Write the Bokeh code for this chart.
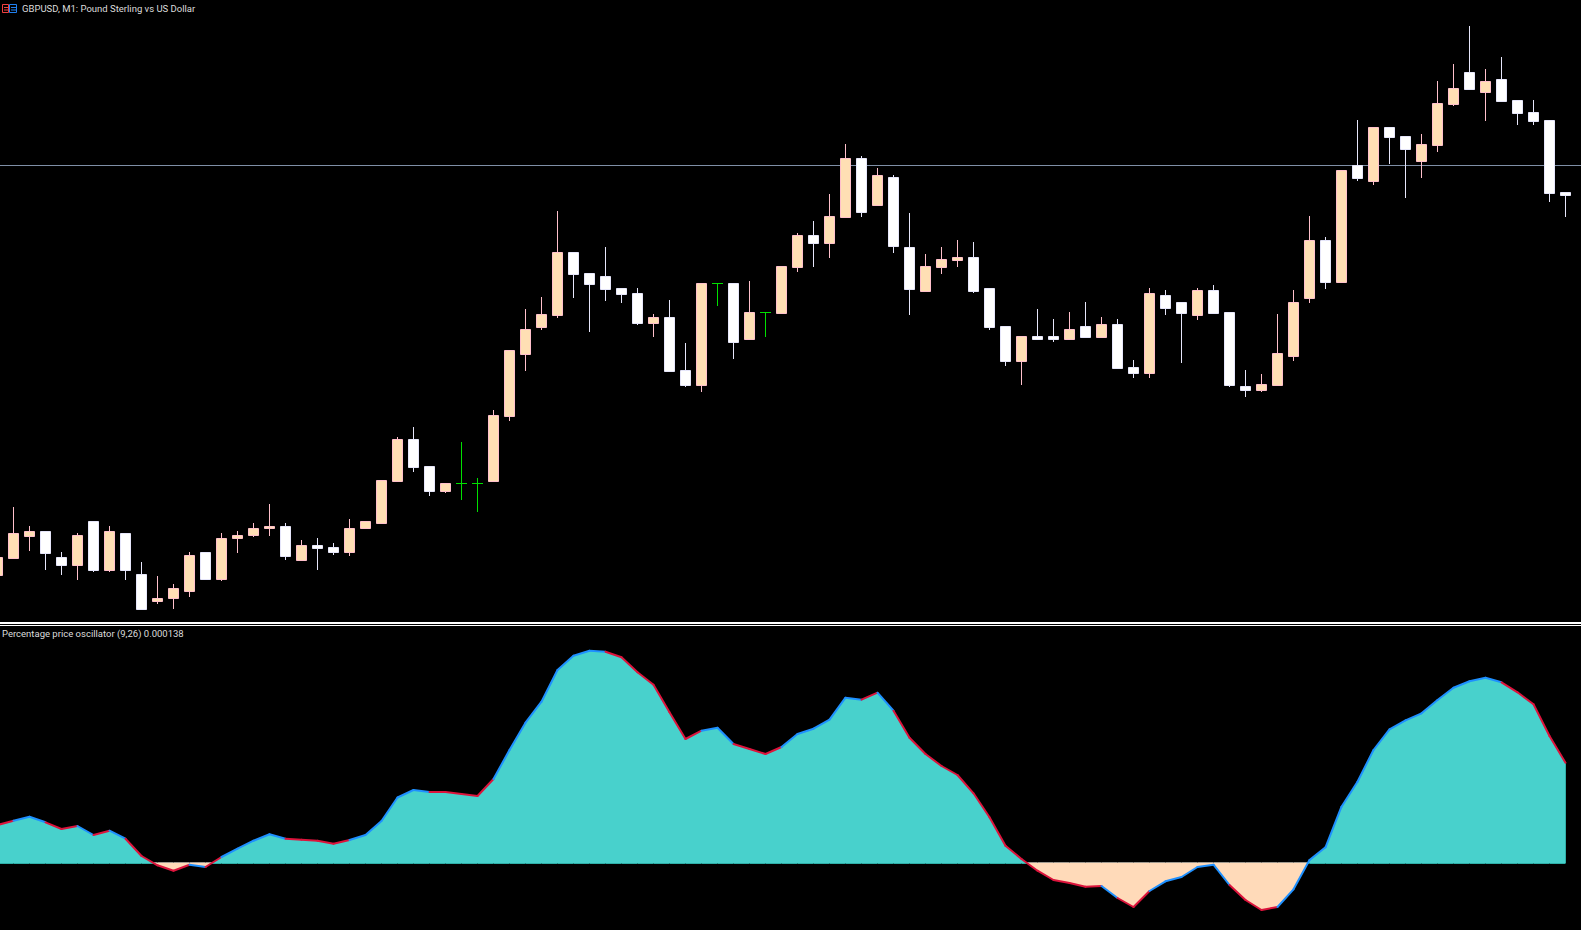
from bokeh.plotting import figure
from bokeh.layouts import column
from bokeh.models import Range1d
from bokeh.core.properties import value
from bokeh.embed import file_html
from bokeh.resources import INLINE

TITLE = "GBPUSD, M1:  Pound Sterling vs US Dollar"
IND_TITLE = "Percentage price oscillator (9,26) 0.000138"
LEVEL = 764.5

opens = [354,371,393,399,373,364,409,359,397,356,
         328,331,338,378,350,391,394,401,404,369,
         385,383,377,401,406,448,491,464,438,447,
         447,448,513,575,602,614,678,657,654,642,
         637,606,613,560,544,647,647,590,618,616,
         662,695,686,712,772,724,753,683,638,662,
         669,673,642,604,568,594,594,590,604,592,
         606,563,556,635,628,614,640,618,544,539,
         544,573,631,690,647,765,748,803,794,768,
         784,825,858,837,851,830,818,810,738]
highs = [373,423,404,399,378,397,409,404,397,368,
         354,346,378,378,397,399,407,426,407,390,
         392,387,411,409,450,493,503,464,447,488,
         452,520,580,621,633,719,678,657,683,642,
         642,616,630,587,647,647,647,649,618,664,
         697,709,736,786,774,762,755,717,676,683,
         690,688,642,604,594,621,611,618,628,613,
         611,570,642,640,628,642,645,618,560,556,
         616,640,714,693,760,810,803,803,794,796,
         849,866,904,861,873,830,830,810,738]
lows = [354,371,379,360,355,350,358,358,350,320,
        326,321,333,350,349,377,393,394,370,369,
        360,375,374,401,406,448,458,434,437,430,
        418,448,509,559,600,612,632,598,629,627,
        605,593,558,543,538,624,571,590,593,616,
        658,663,672,712,713,724,677,615,638,656,
        663,637,600,564,545,590,588,590,592,592,
        561,552,552,615,567,610,616,543,533,538,
        544,569,627,641,647,749,745,766,732,752,
        778,824,840,809,828,805,805,728,713]
closes = [373,397,399,376,364,395,359,399,359,320,
          332,342,375,350,392,395,402,404,373,385,
          381,377,402,409,450,491,462,438,447,447,
          447,515,580,601,616,678,655,645,640,635,
          606,613,558,544,647,647,587,618,618,664,
          695,686,714,772,717,755,683,640,664,671,
          673,638,602,568,594,590,590,601,592,606,
          561,556,637,621,616,640,616,544,539,546,
          577,628,690,647,760,751,803,792,780,786,
          827,842,840,849,828,816,808,736,734]
# oscillator, in units of 0.00000138 (last value = 0.000138)
ppo = [38,42.3,46.3,40.7,34,37,28,32.3,24.3,7,
       -2.3,-7.7,-1.7,-4,6,14.3,22.3,28.7,24.3,23.3,
       22.3,19.3,23,28,42,65.5,73,71,71,69,
       67,84,113,140.3,161.3,193,207.3,212.3,211.3,205.7,
       190.7,178.3,150.7,124,132.3,135.3,119,114,109,116,
       129,134.3,143.3,165.3,163.3,170.3,152.3,125.3,109,97,
       88,69.7,45.7,17.3,4,-7.7,-17,-20,-23.7,-23,
       -35,-44,-28,-18.3,-14,-4,-1.7,-22,-37,-47,
       -44,-26.3,3,15.7,56.3,81.3,113,133.7,142.7,149.7,
       163,175.3,181.7,185.3,180.7,170.7,158.7,127,100.3]
# colour state of each line segment: b = blue, r = red
ppo_state = ("rbbrrbrbrr" "rrbrbbbbrr" "rrbbbbbrrr" "rbbbbbbbrr"
             "rrrrbbrrrb" "bbbbrbrrrr" "rrrrrrrrrb" "rrbbbbbrrr"
             "bbbbbbbbbb" "bbbbrrrr")

BULL, BULL_EDGE = "#FFDFB4", "#FFC0CB"
BEAR, BEAR_EDGE = "#FFFFFF", "#E6E6FA"
DOJI = "#00E000"
TEAL, PEACH = "#48D1CC", "#FFDAB9"
BLUE, RED = "#1E90FF", "#DC143C"
TXT = "#DCDCDC"
FONT = "Roboto"
FONT_SIZE = "9.5px"

n = len(closes)
idx = list(range(n))
hw = 5 / 16
dw = 5.5 / 16
X = lambda px: (px + 2.5) / 16
# Bokeh paints with a half-pixel translate, hence the half-pixel in the ranges;
# the page starts one pixel left of the window so the clip edge stays out of sight
xr = lambda: Range1d(X(-0.5), X(1581.5))


def pane(h, y0, y1):
    f = figure(width=1582, height=h, x_range=xr(), y_range=Range1d(y0, y1),
               x_axis_type=None, y_axis_type=None, toolbar_location=None,
               output_backend="svg", min_border=0, background_fill_color="black",
               border_fill_color="black", outline_line_color=None)
    f.styles = {"background-color": "black"}
    return f


Y = lambda y: 930 - y

# ---- price pane
p = pane(626, 303.5, 929.5)
p.hspan(y=[LEVEL], line_color="#7F8FA6", line_width=1)
p.quad(left=[X(-2)], right=[X(1583)], top=[Y(622)], bottom=[Y(624)], fill_color="white", line_color=None)
p.quad(left=[X(-2)], right=[X(1583)], top=[Y(625)], bottom=[Y(626)], fill_color="white", line_color=None)

wick_col = [DOJI if o == c else (BULL_EDGE if c > o else BEAR_EDGE) for o, c in zip(opens, closes)]
p.segment(idx, lows, idx, highs, line_color=wick_col, line_width=1)
for up, fill, edge in ((True, BULL, BULL_EDGE), (False, BEAR, BEAR_EDGE)):
    s = [i for i in idx if opens[i] != closes[i] and (closes[i] > opens[i]) == up]
    p.quad(left=[i - hw for i in s], right=[i + hw for i in s],
           top=[max(opens[i], closes[i]) - 0.5 for i in s],
           bottom=[min(opens[i], closes[i]) + 0.5 for i in s],
           fill_color=fill, line_color=edge, line_width=1)
d = [i for i in idx if opens[i] == closes[i]]
p.segment([i - dw for i in d], [opens[i] - 0.5 for i in d], [i + dw for i in d], [opens[i] - 0.5 for i in d],
          line_color=DOJI, line_width=1)

# window icon
p.quad(left=[X(2.5)], right=[X(8.5)], top=[Y(4.5)], bottom=[Y(12.5)], fill_color=None, line_color="#F04040", line_width=1)
p.quad(left=[X(9.5)], right=[X(16.5)], top=[Y(4.5)], bottom=[Y(12.5)], fill_color=None, line_color="#2080F0", line_width=1)
p.segment([X(4), X(4)], [Y(7.5), Y(10)], [X(8), X(8)], [Y(7.5), Y(10)], line_color="#F04040", line_width=1)
p.segment([X(11), X(11)], [Y(7.5), Y(10)], [X(16), X(16)], [Y(7.5), Y(10)], line_color="#2080F0", line_width=1)
p.text(x=[X(22)], y=[Y(8.5)], text=[TITLE], text_color=TXT, text_font=value(FONT),
       text_font_size=FONT_SIZE, text_baseline="middle", text_align="left")

# ---- oscillator pane
q = pane(304, -67.5, 236.5)
xs, ys = [], []
for i in idx:
    xs.append(float(i))
    ys.append(float(ppo[i]))
    if i < n - 1 and ppo[i] * ppo[i + 1] < 0:
        xs.append(i + ppo[i] / (ppo[i] - ppo[i + 1]))
        ys.append(0.0)
q.varea(x=xs, y1=[max(v, 0) for v in ys], y2=[0] * len(ys), fill_color=TEAL)
q.varea(x=xs, y1=[min(v, 0) for v in ys], y2=[0] * len(ys), fill_color=PEACH)
for k in range(len(xs) - 1):
    if ys[k] + ys[k + 1] > 0:
        q.segment([xs[k]], [-0.5], [xs[k + 1]], [-0.5], line_color="#2FAFA8", line_width=1)
    else:
        q.segment([xs[k]], [0.5], [xs[k + 1]], [0.5], line_color="#A09A90", line_width=1)
q.segment([idx[-1]], [0], [idx[-1]], [ppo[-1]], line_color="#2FAFA8", line_width=1)
seg_col = [BLUE if s == "b" else RED for s in ppo_state]
q.segment(idx[:-1], ppo[:-1], idx[1:], ppo[1:], line_color=seg_col, line_width=2, line_cap="round")
q.text(x=[X(2)], y=[863 - 633.5], text=[IND_TITLE], text_color=TXT, text_font=value(FONT),
       text_font_size=FONT_SIZE, text_baseline="middle", text_align="left")

page = column(p, q, spacing=0)
page.styles = {"position": "fixed", "left": "-1px", "top": "0", "background-color": "black"}
open("out.html", "w").write(file_html(page, INLINE))
